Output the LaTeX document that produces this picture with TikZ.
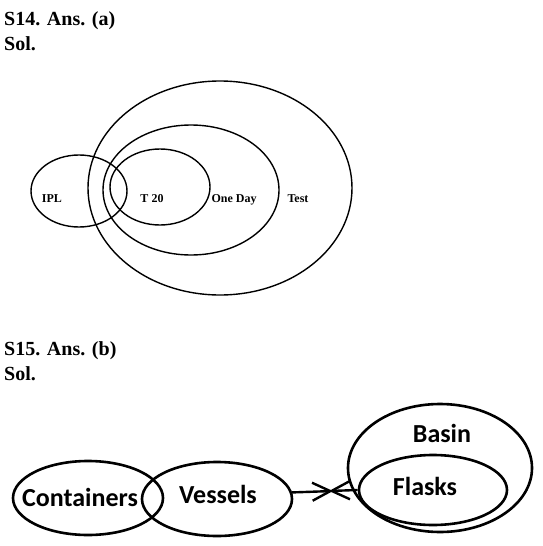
\documentclass[tikz,border=0pt]{standalone}
\usepackage{fontspec}
\setmainfont{Liberation Serif}
\newfontfamily\calfont{Carlito}
\usetikzlibrary{shapes.geometric,arrows.meta}

\begin{document}
\begin{tikzpicture}[x=1pt,y=-1pt,
  ring/.style={draw, ellipse, line width=1.4pt, inner sep=0pt},
  bigring/.style={draw, ellipse, line width=2.6pt, inner sep=0pt},
  head/.style={anchor=base west, inner sep=0pt, font=\fontsize{20}{24}\selectfont\bfseries},
  setname/.style={anchor=base, inner sep=0pt, font=\fontsize{12}{14}\selectfont\bfseries},
  itemname/.style={anchor=base, inner sep=0pt, font=\calfont\fontsize{26}{30}\selectfont\bfseries},
  barb/.style={line width=2.4pt, -{Straight Barb[length=18pt,width=18pt]}}]
\useasboundingbox (0,0) rectangle (542,546);
% S14
\node[head] (q14) at (4,25) {S14. Ans. (a)};
\node[head] (sol14) at (4,50) {Sol.};
\node[ring, minimum width=264pt, minimum height=214pt] (test) at (220,188) {};
\node[ring, minimum width=176pt, minimum height=130pt] (oneday) at (191,190) {};
\node[ring, minimum width=100pt, minimum height=76pt] (ttwenty) at (160,187) {};
\node[ring, minimum width=96pt, minimum height=72pt] (ipl) at (79,191) {};
\node[setname] (ipltext) at (52,202) {IPL};
\node[setname] (ttwentytext) at (152,202) {T 20};
\node[setname] (onedaytext) at (234,202) {One Day};
\node[setname] (testtext) at (298,202) {Test};
% S15
\node[head] (q15) at (4,355) {S15. Ans. (b)};
\node[head] (sol15) at (4,380) {Sol.};
\node[bigring, minimum width=150pt, minimum height=74pt] (containers) at (88,498) {};
\node[bigring, minimum width=150pt, minimum height=74pt] (vessels) at (217,499) {};
\node[bigring, minimum width=184pt, minimum height=128pt] (basin) at (440,468) {};
\node[bigring, minimum width=148pt, minimum height=70pt] (flasks) at (433,490) {};
\node[itemname] (containerstext) at (80,506) {Containers};
\node[itemname] (vesselstext) at (218,503) {Vessels};
\node[itemname] (basintext) at (442,442) {Basin};
\node[itemname] (flaskstext) at (425,495) {Flasks};
\coordinate (meetr) at (333,491);
\coordinate (meetl) at (329,491);
\draw[barb] (vessels.5) -- (meetr);
\draw[barb] (flasks.west) -- (meetl);
\end{tikzpicture}
\end{document}
